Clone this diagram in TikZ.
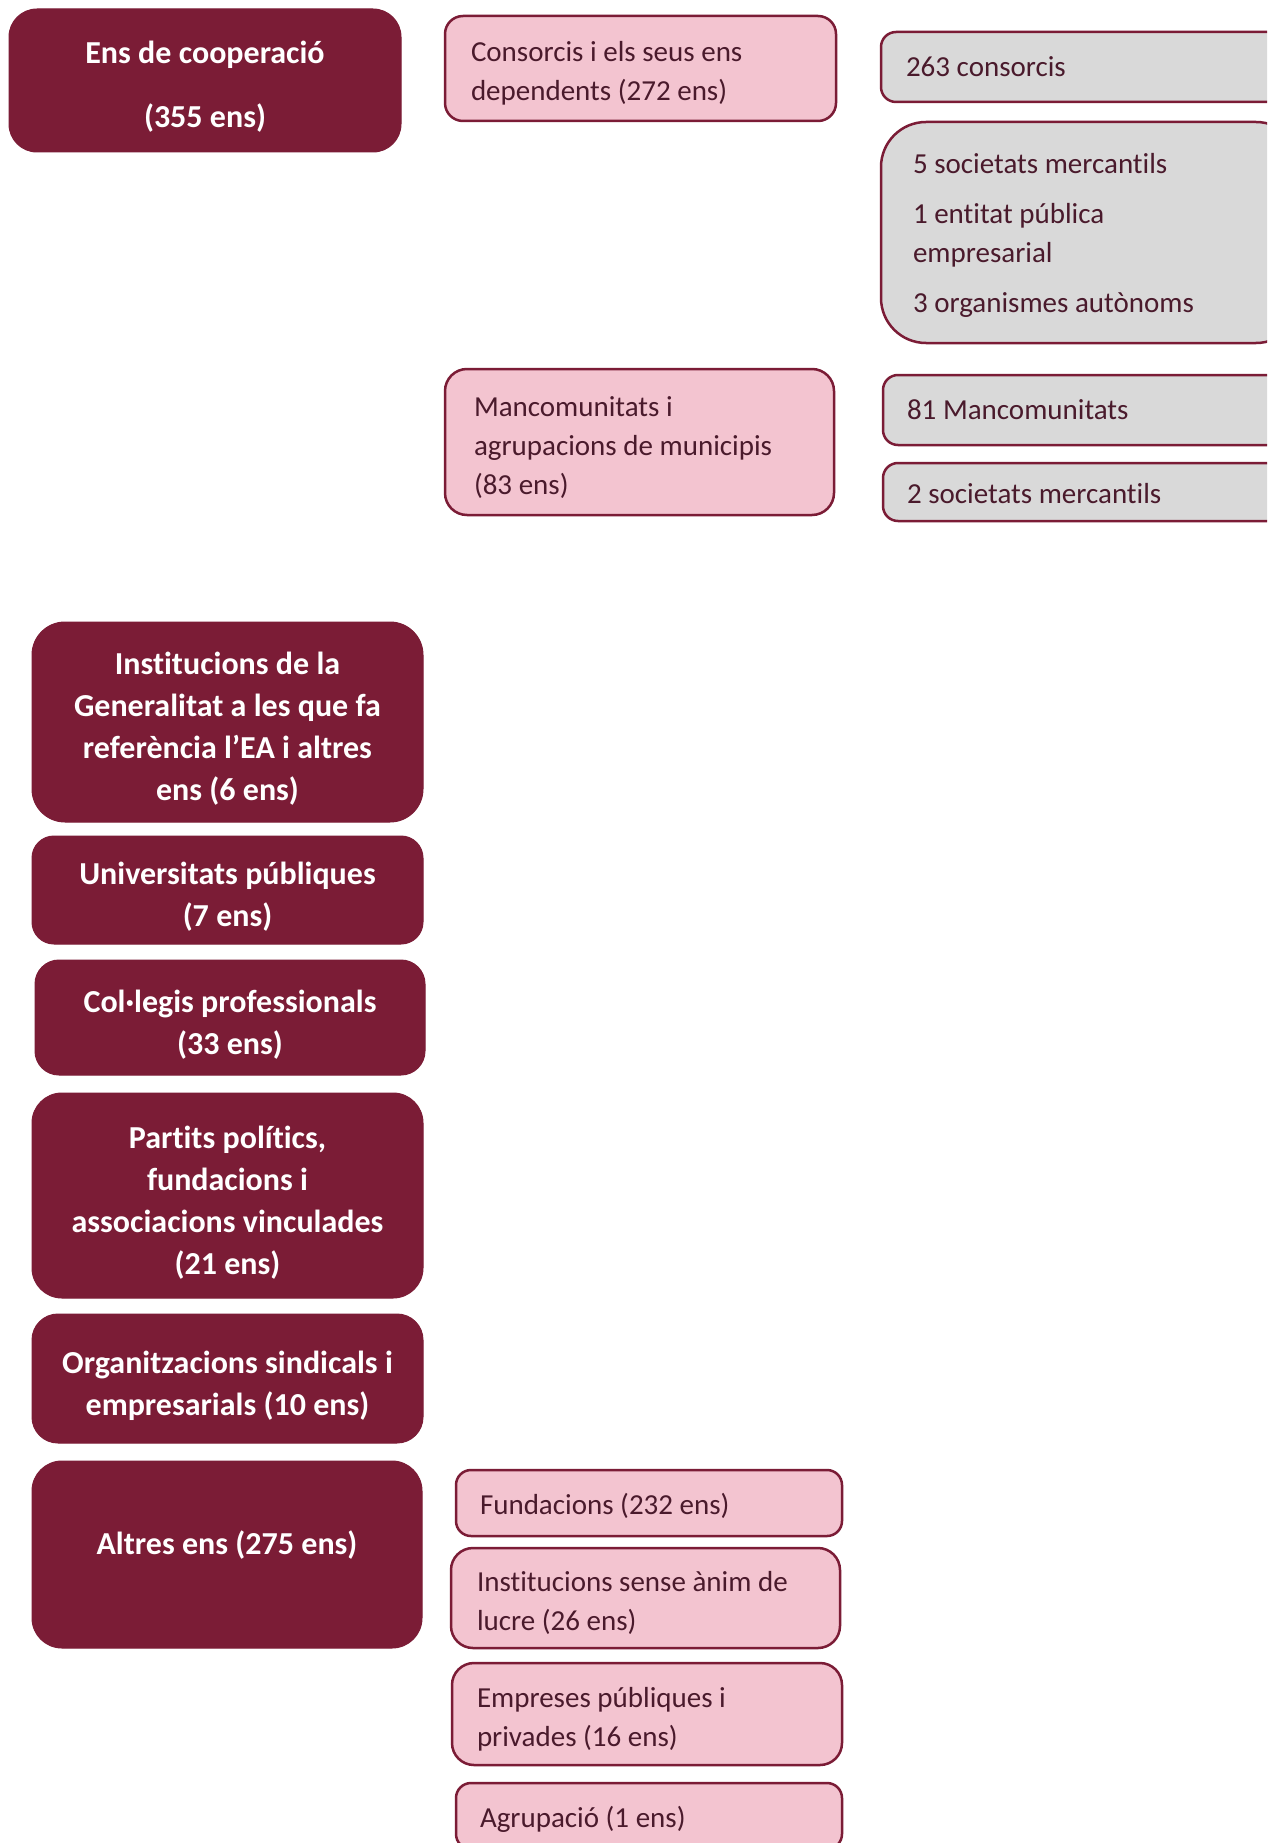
\documentclass[tikz,border=0pt]{standalone}
\usepackage{fontspec}
\setmainfont{Carlito}[Ligatures=NoCommon]
\definecolor{maroon}{HTML}{7B1C36}
\definecolor{pinkfill}{HTML}{F3C4D0}
\definecolor{grayfill}{HTML}{D9D9D9}
\definecolor{txtdark}{HTML}{4A1A2C}
\def\mytop{35pt}\def\mybot{9pt}\def\myspc{6.6pt}
\begin{document}
\begin{tikzpicture}[x=1pt,y=-1pt,
  tops/.code={\def\mytop{#1}}, bots/.code={\def\mybot{#1}}, spc/.code={\def\myspc{#1}},
  base/.style={anchor=north west, outer sep=0pt, inner ysep=0pt,
    execute at begin node={\spaceskip=\myspc\relax\xspaceskip=\myspc\relax\rule{0pt}{\mytop}},
    execute at end node={\rule[-\mybot]{0pt}{\mybot}}},
  dark/.style={base, fill=maroon, draw=maroon, line width=1pt, rounded corners=28pt,
    text=white, font=\fontsize{32}{42}\selectfont\bfseries, align=center, inner xsep=10pt,
    tops=41pt, bots=10pt, spc=7.3pt},
  pinkbox/.style={base, fill=pinkfill, draw=maroon, line width=2.5pt, rounded corners=18pt,
    text=txtdark, font=\fontsize{29}{39}\selectfont, align=left,
    tops=35pt, bots=9pt, spc=6.6pt},
  graybox/.style={pinkbox, fill=grayfill, rounded corners=15pt, tops=31pt},
]
\useasboundingbox (0,0) rectangle (1267,1843);
\clip (0,0) rectangle (1267,1843);
\fill[white] (0,0) rectangle (1267,1843);

% dark boxes (left column)
\node[dark, minimum height=143pt, text width=372pt] (coop) at (9,9)
  {Ens de cooperació\\[22pt](355 ens)};
\node[dark, minimum height=200pt, text width=371pt, rounded corners=33pt] (inst) at (32,622)
  {Institucions de la\\Generalitat a les que fa\\referència l’EA i altres\\ens (6 ens)};
\node[dark, minimum height=108pt, text width=371pt, rounded corners=22pt] (univ) at (32,836)
  {Universitats públiques\\(7 ens)};
\node[dark, minimum height=115pt, text width=370pt, rounded corners=24pt] (coleg) at (35,960)
  {Col·legis professionals\\(33 ens)};
\node[dark, minimum height=205pt, text width=371pt, rounded corners=30pt] (partits) at (32,1093)
  {Partits polítics,\\fundacions i\\associacions vinculades\\(21 ens)};
\node[dark, minimum height=129pt, text width=371pt, rounded corners=26pt] (sind) at (32,1314)
  {Organitzacions sindicals i\\empresarials (10 ens)};
\node[dark, minimum height=187pt, text width=370pt, rounded corners=30pt,
  tops=37pt, bots=37pt] (altres) at (32,1461)
  {Altres ens (275 ens)};

% pink boxes
\node[pinkbox, minimum height=105pt, inner xsep=26pt, text width=339pt] (consorcis) at (445,16)
  {Consorcis i els seus ens\\dependents (272 ens)};
\node[pinkbox, minimum height=146pt, inner xsep=29pt, text width=331pt, rounded corners=22pt] (manc) at (445,369)
  {Mancomunitats i\\agrupacions de municipis\\(83 ens)};
\node[pinkbox, minimum height=66pt, inner xsep=24pt, text width=338pt, rounded corners=15pt, tops=31pt] (fund) at (456,1470)
  {Fundacions (232 ens)};
\node[pinkbox, minimum height=100pt, inner xsep=26pt, text width=337pt, rounded corners=22pt] (isal) at (451,1548)
  {Institucions sense ànim de\\lucre (26 ens)};
\node[pinkbox, minimum height=102pt, inner xsep=25pt, text width=340pt, rounded corners=22pt] (empr) at (452,1663)
  {Empreses públiques i\\privades (16 ens)};
\node[pinkbox, minimum height=66pt, inner xsep=24pt, text width=338pt, rounded corners=15pt, tops=31pt] (agrup) at (456,1783)
  {Agrupació (1 ens)};

% gray boxes (right column, cut by the page edge)
\node[graybox, minimum height=70pt, inner xsep=25pt, text width=370pt, tops=28pt] (c263) at (881,32)
  {263 consorcis};
\node[graybox, minimum height=221pt, inner xsep=32pt, text width=356pt, rounded corners=45pt] (dep) at (881,122)
  {5 societats mercantils\\[11pt]1 entitat pública\\empresarial\\[11pt]3 organismes autònoms};
\node[graybox, minimum height=70pt, inner xsep=24pt, text width=372pt, tops=28pt] (m81) at (883,375)
  {81 Mancomunitats};
\node[graybox, minimum height=58pt, inner xsep=24pt, text width=372pt] (soc2) at (883,463)
  {2 societats mercantils};
\end{tikzpicture}
\end{document}
